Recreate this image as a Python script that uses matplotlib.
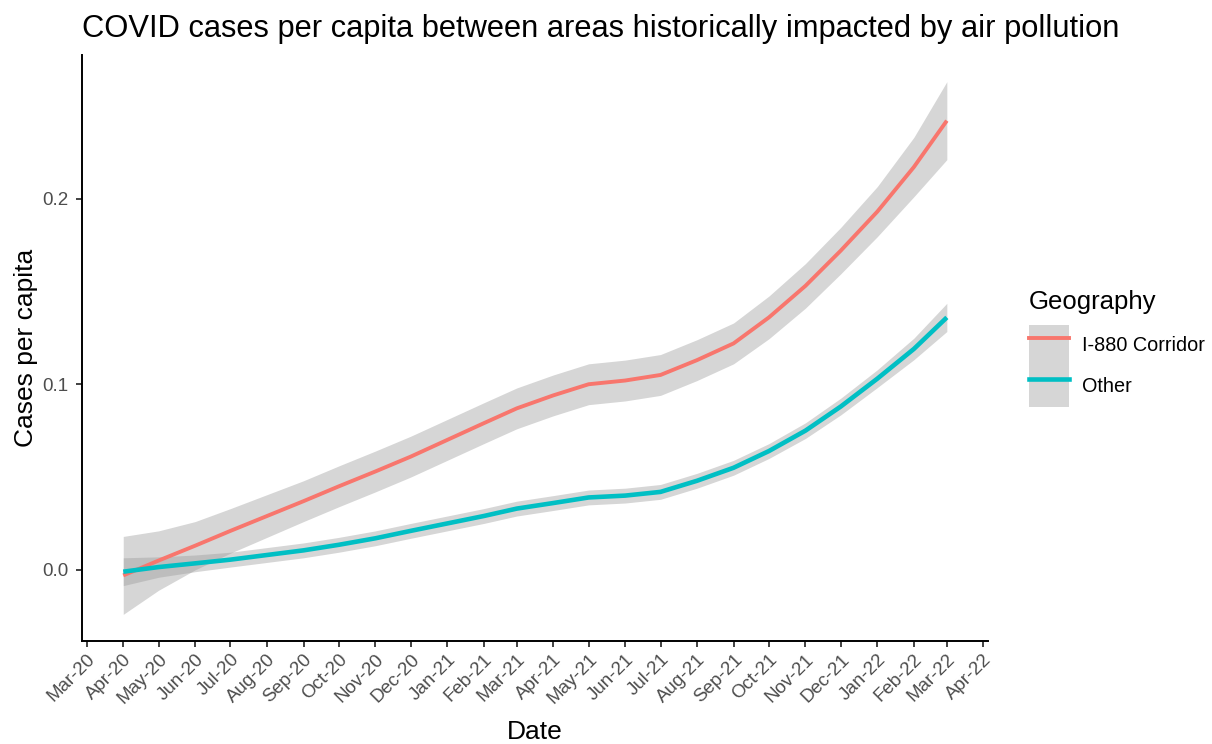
import numpy as np
import pandas as pd
import matplotlib
matplotlib.use("Agg")
import matplotlib.pyplot as plt
import matplotlib.dates as mdates
from matplotlib.lines import Line2D
from matplotlib.patches import Patch

plt.rcParams['font.family'] = ['Liberation Sans', 'DejaVu Sans']

# loess fits, one value per month (Apr-20 .. Mar-22)
months = pd.date_range('2020-04-01', '2022-03-01', freq='MS')

corridor_fit = [-0.003, 0.005, 0.013, 0.021, 0.029, 0.037, 0.045, 0.053,
                0.061, 0.070, 0.079, 0.087, 0.094, 0.100, 0.102, 0.105,
                0.113, 0.122, 0.136, 0.153, 0.172, 0.193, 0.217, 0.242]
corridor_se = [0.021, 0.016, 0.013, 0.012, 0.0115, 0.011, 0.011, 0.011,
               0.011, 0.011, 0.011, 0.011, 0.011, 0.011, 0.011, 0.011,
               0.011, 0.011, 0.0115, 0.012, 0.0125, 0.0135, 0.016, 0.021]

other_fit = [-0.001, 0.0015, 0.0035, 0.0055, 0.008, 0.0105, 0.0135, 0.017,
             0.021, 0.025, 0.029, 0.033, 0.036, 0.039, 0.040, 0.042,
             0.048, 0.055, 0.064, 0.075, 0.088, 0.103, 0.119, 0.136]
other_se = [0.0075, 0.0055, 0.0045, 0.004, 0.004, 0.004, 0.004, 0.004,
            0.004, 0.004, 0.004, 0.004, 0.004, 0.004, 0.004, 0.004,
            0.004, 0.004, 0.004, 0.0042, 0.0045, 0.0048, 0.0058, 0.0076]

groups = ['I-880 Corridor', 'Other']
colors = ['#F8766D', '#00BFC4']
widths = [2.8, 3.3]

fig = plt.figure(figsize=(12.12, 7.44), dpi=100)
ax = fig.add_axes([0.0677, 0.1384, 0.7475, 0.7876])

band_color = '#999999'
series = [(corridor_fit, corridor_se), (other_fit, other_se)]
for (fit, se), col, lw in zip(series, colors, widths):
    fit = np.array(fit)
    se = np.array(se)
    ax.fill_between(months, fit - se, fit + se, color=band_color, alpha=0.4, lw=0)
    ax.plot(months, fit, color=col, lw=lw, solid_capstyle='butt')

# ggplot-style 5% expansion
x0, x1 = mdates.date2num(months[0]), mdates.date2num(months[-1])
xpad = (x1 - x0) * 0.05
ax.set_xlim(x0 - xpad, x1 + xpad)
lo = min(np.min(np.array(corridor_fit) - corridor_se), np.min(np.array(other_fit) - other_se))
hi = max(np.max(np.array(corridor_fit) + corridor_se), np.max(np.array(other_fit) + other_se))
ypad = (hi - lo) * 0.05
ax.set_ylim(lo - ypad, hi + ypad)

ax.xaxis.set_major_locator(mdates.MonthLocator())
ax.xaxis.set_major_formatter(mdates.DateFormatter('%b-%y'))
ax.set_yticks([0.0, 0.1, 0.2])
ax.set_yticklabels(['0.0', '0.1', '0.2'])

for side in ['top', 'right']:
    ax.spines[side].set_visible(False)
for side in ['left', 'bottom']:
    ax.spines[side].set_linewidth(1.4)
    ax.spines[side].set_color('black')

ax.tick_params(axis='both', length=4, width=1.3, color='#333333',
               labelcolor='#4D4D4D', labelsize=13.5)
ax.tick_params(axis='y', pad=5.5)
ax.tick_params(axis='x', pad=3)
for lab in ax.get_xticklabels():
    lab.set_rotation(45)
    lab.set_ha('right')
    lab.set_va('top')
    lab.set_rotation_mode('anchor')

ax.set_xlabel('Date', fontsize=19, labelpad=9)
ax.set_ylabel('Cases per capita', fontsize=19, labelpad=3)
ax.set_title('COVID cases per capita between areas historically impacted by air pollution',
             loc='left', fontsize=22.2, pad=13)

handles = []
for col, lw in zip(colors, widths):
    handles.append((Patch(facecolor='#D6D6D6', edgecolor='none'),
                    Line2D([], [], color=col, lw=lw)))
leg = fig.legend(handles, groups, loc='center left',
                 bbox_to_anchor=(1019 / 1212, 0.5316), frameon=False,
                 fontsize=14.3, title='Geography', title_fontsize=18.5,
                 handlelength=2.01, handleheight=2.8, labelspacing=0,
                 handletextpad=0.65, borderpad=0, alignment='left')
leg._legend_box.sep = 8

fig.savefig('out.png', dpi=100)
